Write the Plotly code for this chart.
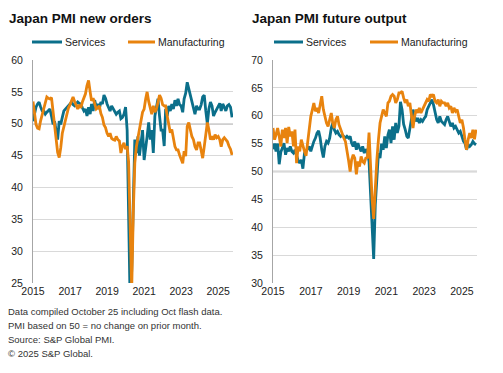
import pandas as pd
import plotly.graph_objects as go

months = pd.date_range("2015-01-01", periods=130, freq="MS")

services_new_orders = [
    50.4, 51.5, 52.6, 53.1, 53.4, 52.6, 52.0, 52.0, 51.5, 51.8, 52.0, 52.3,
    51.2, 49.9, 50.4, 48.5, 47.5, 50.4, 49.9, 51.0, 52.0, 52.3, 52.6, 52.8,
    53.1, 53.4, 53.0, 52.8, 53.1, 53.4, 53.2, 53.1, 52.5, 52.0, 52.3, 51.2,
    52.6, 51.5, 53.1, 52.0, 53.7, 52.6, 53.1, 52.3, 53.4, 53.1, 54.5, 54.0,
    53.1, 52.6, 52.0, 52.8, 52.3, 52.0, 51.5, 51.8, 52.0, 50.8, 51.0, 51.5,
    52.6, 49.0, 36.0, 21.5, 27.0, 40.0, 47.5, 45.4, 48.0, 45.0, 47.0, 49.0,
    44.3, 45.9, 48.0, 50.2, 47.5, 49.0, 45.4, 51.2, 52.3, 53.9, 51.2, 49.0,
    49.0, 46.5, 52.3, 51.2, 52.8, 52.0, 53.1, 52.3, 53.7, 52.8, 53.9, 53.0,
    52.8, 51.8, 53.9, 54.8, 56.5, 55.5, 54.5, 53.4, 52.3, 51.5, 52.8, 52.3,
    52.3, 53.0, 54.2, 54.5, 52.0, 50.0, 52.3, 53.4, 52.8, 51.2, 51.8, 52.3,
    52.8, 53.2, 52.0, 53.1, 52.6, 52.0, 52.8, 53.0, 52.6, 51.0,
]

manufacturing_new_orders = [
    53.5, 51.8, 49.9, 49.3, 49.2, 50.5, 51.5, 52.4, 53.5, 54.2, 54.0, 53.9,
    54.1, 52.0, 49.5, 47.0, 45.5, 44.7, 46.2, 48.5, 49.5, 50.5, 51.5, 52.5,
    53.0, 53.8, 54.2, 53.5, 52.8, 52.3, 53.0, 52.5, 53.4, 54.0, 54.7, 56.0,
    56.8, 55.0, 53.6, 54.0, 53.2, 52.3, 52.5, 52.8, 51.6, 51.0, 49.8, 49.4,
    48.5, 48.0, 48.5, 47.7, 47.5, 47.4, 48.0, 47.5, 47.3, 45.4, 46.5, 47.0,
    46.0, 46.5, 44.0, 33.0, 24.0, 36.0, 43.8, 46.4, 48.0, 49.0, 50.5, 51.8,
    52.3, 53.9, 55.0, 53.5, 52.3, 51.5, 52.8, 51.8, 52.3, 53.5, 54.5, 54.0,
    53.0, 52.8, 52.8, 51.2, 49.6, 48.6, 49.1, 47.5, 46.4, 45.9, 45.9, 45.1,
    44.3, 43.8, 45.7, 44.9, 49.6, 50.2, 49.1, 48.0, 47.5, 46.4, 45.9, 47.0,
    47.0, 45.5, 44.6, 46.4, 48.0, 50.2, 49.1, 47.5, 48.0, 47.5, 48.3, 47.8,
    48.0, 47.5, 46.4, 47.5, 47.8, 47.5, 47.2, 46.5, 46.0, 45.1,
]

services_future_output = [
    54.0, 55.0, 53.6, 55.0, 51.3, 53.5, 54.2, 55.1, 53.0, 54.2, 53.6, 54.5,
    53.6, 53.3, 53.9, 52.7, 52.0, 51.5, 52.1, 50.5, 53.3, 53.6, 54.2, 54.5,
    53.6, 54.8, 55.4, 56.0, 56.9, 57.3, 56.0, 53.9, 52.5, 54.5, 55.4, 55.1,
    56.0, 57.8, 58.7, 57.5, 56.9, 57.2, 56.6, 56.3, 56.6, 56.3, 56.0, 56.3,
    56.0, 56.3, 55.1, 54.5, 55.4, 53.9, 55.1, 54.2, 53.6, 54.5, 53.3, 54.0,
    53.5, 51.8, 46.0, 38.0, 34.3, 44.0, 50.0, 53.3, 52.4, 55.0, 53.9, 56.3,
    54.2, 56.6, 57.5, 55.1, 58.1, 55.7, 58.7, 56.9, 58.1, 62.5, 61.1, 58.5,
    57.5, 56.3, 56.0, 57.8, 59.9, 61.1, 59.9, 59.0, 59.6, 58.7, 59.3, 59.0,
    59.5, 59.9, 61.1, 61.7, 62.3, 62.9, 62.0, 60.5, 59.3, 58.7, 59.9, 59.0,
    58.7, 58.4, 59.3, 59.9, 59.0, 58.1, 58.7, 57.8, 58.1, 57.5, 56.9, 57.2,
    56.3, 55.4, 55.1, 53.9, 54.8, 54.5, 54.8, 55.4, 55.0, 54.8,
]

manufacturing_future_output = [
    57.8, 55.7, 56.6, 57.8, 56.3, 54.5, 57.5, 56.0, 57.8, 55.1, 58.0, 56.3,
    57.2, 54.5, 57.5, 51.5, 54.5, 53.6, 55.7, 54.5, 53.6, 52.8, 55.0, 58.0,
    59.9, 61.1, 62.3, 60.8, 61.4, 60.5, 61.7, 63.5, 61.1, 59.9, 58.7, 58.1,
    59.3, 60.5, 58.7, 57.8, 59.3, 59.9, 58.4, 57.5, 56.6, 56.0, 55.4, 53.9,
    52.0, 50.0, 52.1, 53.0, 52.4, 49.5, 51.8, 50.9, 52.7, 51.8, 51.5, 52.4,
    52.5, 57.0, 50.0, 45.0, 41.5, 48.0, 52.0, 55.7, 58.7, 59.9, 61.1, 60.5,
    59.9, 62.3, 62.6, 63.5, 63.8, 63.5, 62.3, 62.9, 64.1, 64.1, 64.4, 63.2,
    62.3, 62.9, 61.7, 62.3, 59.9, 57.8, 59.9, 61.1, 60.5, 61.4, 60.5, 61.1,
    61.7, 62.3, 62.9, 62.6, 63.8, 63.5, 63.8, 62.6, 62.3, 62.9, 61.7, 62.6,
    62.3, 62.3, 61.7, 62.3, 61.4, 61.7, 60.5, 61.4, 60.8, 61.1, 59.9, 58.7,
    59.3, 57.8, 55.7, 53.9, 55.7, 56.9, 56.0, 57.5, 55.8, 57.5,
]

year_ticks = ["2015", "2017", "2019", "2021", "2023", "2025"]
left_yticks = [25, 30, 35, 40, 45, 50, 55, 60]
right_yticks = [30, 35, 40, 45, 50, 55, 60, 65, 70]

series_names = ["Services", "Manufacturing"]
titles = ["Japan PMI new orders", "Japan PMI future output"]
footer = [
    "Data compiled October 25 including Oct flash data.",
    "PMI based on 50 = no change on prior month.",
    "Source: S&P Global PMI.",
    "© 2025 S&P Global.",
]

TEAL = "#0b6f8a"
ORANGE = "#e8830e"
FONT = "Liberation Sans, Arial, sans-serif"
W, H = 503, 373


def px_x(p):
    return p / W


def px_y(p):
    return 1 - p / H


fig = go.Figure()
fig.add_trace(go.Scatter(x=months, y=services_new_orders, name=series_names[0], mode="lines",
                         line=dict(color=TEAL, width=2.8), xaxis="x", yaxis="y"))
fig.add_trace(go.Scatter(x=months, y=manufacturing_new_orders, name=series_names[1], mode="lines",
                         line=dict(color=ORANGE, width=2.8), xaxis="x", yaxis="y"))
fig.add_trace(go.Scatter(x=months, y=services_future_output, name=series_names[0], mode="lines",
                         line=dict(color=TEAL, width=2.8), xaxis="x2", yaxis="y2"))
fig.add_trace(go.Scatter(x=months, y=manufacturing_future_output, name=series_names[1], mode="lines",
                         line=dict(color=ORANGE, width=2.8), xaxis="x2", yaxis="y2"))

tickvals_x = [pd.Timestamp(f"{y}-01-01") for y in year_ticks]
xrange_ = [pd.Timestamp("2015-01-01"), pd.Timestamp("2025-10-20")]

common_x = dict(type="date", range=xrange_, tickvals=tickvals_x, ticktext=year_ticks,
                showgrid=False, showline=False, zeroline=False, ticks="", automargin=False,
                tickfont=dict(family=FONT, size=10.5, color="#222"))
common_y = dict(showgrid=True, gridcolor="#d9d9d9", gridwidth=1, zeroline=False,
                showline=True, linecolor="#a6a6a6", linewidth=1, ticks="", automargin=False,
                ticklabelstandoff=7,
                tickfont=dict(family=FONT, size=10.5, color="#222"))

yd = [px_y(283), px_y(60)]
fig.update_layout(
    width=W, height=H, autosize=False,
    margin=dict(l=0, r=0, t=0, b=0, autoexpand=False),
    showlegend=False,
    paper_bgcolor="white", plot_bgcolor="white",
    font=dict(family=FONT, size=10, color="#222"),
    xaxis=dict(domain=[px_x(33), px_x(233)], anchor="y", **common_x),
    yaxis=dict(domain=yd, anchor="x", range=[25, 60], tickvals=left_yticks, **common_y),
    xaxis2=dict(domain=[px_x(273), px_x(477)], anchor="y2", **common_x),
    yaxis2=dict(domain=yd, anchor="x2", range=[30, 70], tickvals=right_yticks, **common_y),
)

shapes = [
    dict(type="line", xref="x domain", yref="y", x0=0, x1=1, y0=50, y1=50,
         line=dict(color="#a0a0a0", width=1.5), layer="below"),
    dict(type="line", xref="x2 domain", yref="y2", x0=0, x1=1, y0=50, y1=50,
         line=dict(color="#a0a0a0", width=1.5), layer="below"),
]

annotations = [
    dict(text=f"<b>{titles[0]}</b>", x=px_x(7), y=px_y(18), xref="paper", yref="paper",
         xanchor="left", yanchor="middle", showarrow=False,
         font=dict(family=FONT, size=13.5, color="#111")),
    dict(text=f"<b>{titles[1]}</b>", x=px_x(250), y=px_y(18), xref="paper", yref="paper",
         xanchor="left", yanchor="middle", showarrow=False,
         font=dict(family=FONT, size=13.5, color="#111")),
]

# legends (line swatch + label) for each panel
legend_items = [
    (32, 62, 63, series_names[0], TEAL),
    (128, 155, 156, series_names[1], ORANGE),
    (274, 303, 304, series_names[0], TEAL),
    (370, 398, 399, series_names[1], ORANGE),
]
for x0, x1, tx, label, col in legend_items:
    shapes.append(dict(type="line", xref="paper", yref="paper", x0=px_x(x0), x1=px_x(x1),
                       y0=px_y(42), y1=px_y(42), line=dict(color=col, width=3)))
    annotations.append(dict(text=label, x=px_x(tx), y=px_y(42), xref="paper", yref="paper",
                            xanchor="left", yanchor="middle", showarrow=False,
                            font=dict(family=FONT, size=10.5, color="#222")))

for i, line in enumerate(footer):
    annotations.append(dict(text=line, x=px_x(6), y=px_y(311 + 14 * i), xref="paper", yref="paper",
                            xanchor="left", yanchor="middle", showarrow=False,
                            font=dict(family=FONT, size=9.5, color="#333")))

fig.update_layout(annotations=annotations, shapes=shapes)

fig.write_html(
    "out.html",
    config={"displayModeBar": False, "staticPlot": True},
    post_script="document.body.style.margin='0px';document.body.style.overflow='hidden';",
)
